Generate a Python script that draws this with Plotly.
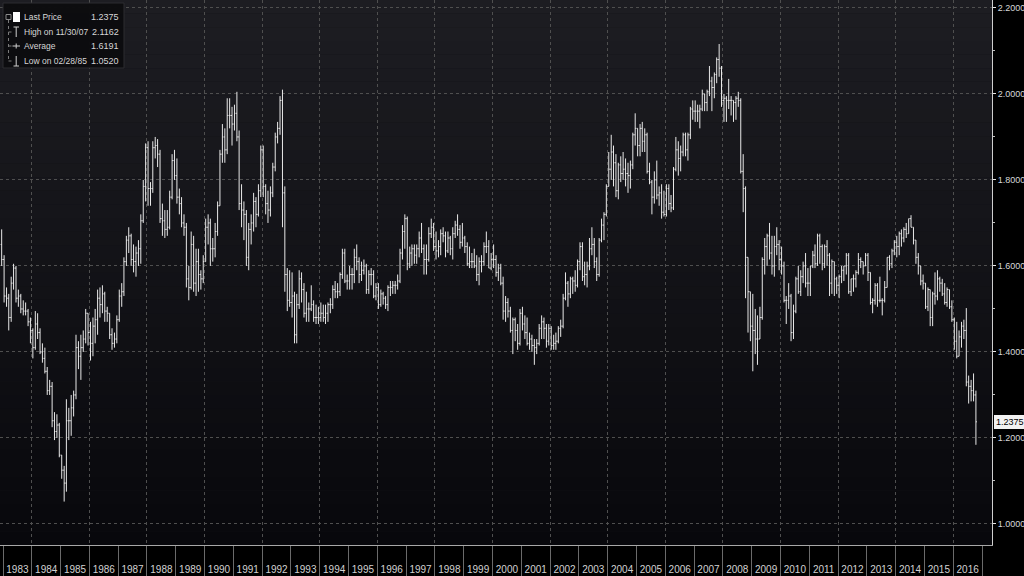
import plotly.graph_objects as go
import pandas as pd

# ---------------- DATA (monthly GBP/USD bars, Dec 1982 .. Oct 2016) ----------------
first_month = "1982-12"
first_open = 1.650

high = [
    1.685,
    1.625,1.550,1.535,1.575,1.605,1.600,1.545,1.535,1.520,1.515,1.500,1.480,  # 1983
    1.455,1.495,1.490,1.455,1.420,1.410,1.365,1.335,1.330,1.260,1.255,1.235,  # 1984
    1.160,1.135,1.290,1.270,1.300,1.310,1.440,1.425,1.440,1.450,1.500,1.490,  # 1985
    1.470,1.480,1.500,1.545,1.550,1.555,1.540,1.505,1.490,1.455,1.445,1.485,  # 1986
    1.545,1.560,1.620,1.670,1.690,1.675,1.650,1.645,1.660,1.720,1.800,1.885,  # 1987
    1.890,1.795,1.890,1.900,1.895,1.870,1.745,1.730,1.730,1.775,1.860,1.870,  # 1988
    1.850,1.780,1.760,1.720,1.700,1.600,1.680,1.670,1.640,1.640,1.590,1.625,  # 1989
    1.710,1.720,1.710,1.665,1.700,1.750,1.870,1.930,1.920,1.990,1.990,1.970,  # 1990
    1.975,2.005,1.915,1.790,1.750,1.730,1.700,1.720,1.770,1.760,1.790,1.880,  # 1991
    1.880,1.790,1.775,1.785,1.840,1.910,1.935,1.995,2.010,1.785,1.595,1.590,  # 1992
    1.585,1.540,1.535,1.590,1.585,1.560,1.540,1.515,1.555,1.520,1.510,1.505,  # 1993
    1.515,1.510,1.510,1.515,1.525,1.555,1.565,1.560,1.585,1.640,1.640,1.580,  # 1994
    1.600,1.595,1.640,1.650,1.620,1.610,1.615,1.605,1.590,1.595,1.590,1.560,  # 1995
    1.560,1.545,1.540,1.530,1.555,1.565,1.565,1.565,1.580,1.640,1.695,1.720,  # 1996
    1.715,1.645,1.650,1.650,1.650,1.680,1.700,1.650,1.650,1.690,1.710,1.700,  # 1997
    1.680,1.660,1.685,1.690,1.680,1.680,1.670,1.690,1.705,1.720,1.695,1.700,  # 1998
    1.670,1.655,1.645,1.630,1.640,1.625,1.620,1.625,1.655,1.680,1.660,1.630,  # 1999
    1.650,1.625,1.605,1.605,1.575,1.530,1.525,1.505,1.480,1.480,1.465,1.500,  # 2000
    1.505,1.485,1.480,1.445,1.440,1.430,1.430,1.465,1.485,1.480,1.465,1.465,  # 2001
    1.460,1.440,1.445,1.460,1.475,1.535,1.585,1.565,1.575,1.575,1.590,1.615,  # 2002
    1.655,1.655,1.610,1.610,1.665,1.690,1.665,1.620,1.665,1.710,1.725,1.790,  # 2003
    1.865,1.905,1.880,1.860,1.840,1.855,1.865,1.850,1.840,1.845,1.910,1.955,  # 2004
    1.910,1.930,1.935,1.920,1.910,1.840,1.800,1.820,1.845,1.785,1.790,1.775,  # 2005
    1.790,1.790,1.765,1.830,1.900,1.890,1.880,1.910,1.910,1.910,1.970,1.985,  # 2006
    1.985,1.975,1.975,2.010,2.000,2.010,2.065,2.040,2.050,2.085,2.1162,2.065, # 2007
    2.000,1.995,2.035,1.995,1.985,1.995,2.005,1.990,1.860,1.785,1.620,1.540,  # 2008
    1.535,1.500,1.485,1.505,1.620,1.665,1.675,1.700,1.670,1.670,1.690,1.660,  # 2009
    1.645,1.610,1.530,1.560,1.535,1.510,1.575,1.600,1.590,1.610,1.630,1.595,  # 2010
    1.600,1.635,1.650,1.675,1.675,1.650,1.650,1.660,1.630,1.615,1.610,1.575,  # 2011
    1.580,1.600,1.600,1.630,1.630,1.570,1.580,1.590,1.630,1.620,1.610,1.630,  # 2012
    1.630,1.585,1.525,1.560,1.560,1.575,1.525,1.565,1.620,1.625,1.640,1.660,  # 2013
    1.670,1.680,1.685,1.690,1.700,1.710,1.718,1.690,1.660,1.630,1.600,1.580,  # 2014
    1.560,1.550,1.545,1.540,1.585,1.590,1.575,1.570,1.560,1.550,1.540,1.520,  # 2015
    1.480,1.470,1.450,1.470,1.475,1.502,1.345,1.335,1.350,1.310,              # 2016
]

low = [
    1.600,
    1.515,1.505,1.450,1.470,1.545,1.515,1.505,1.490,1.485,1.485,1.460,1.420,  # 1983
    1.385,1.405,1.430,1.395,1.375,1.350,1.300,1.300,1.225,1.195,1.200,1.155,  # 1984
    1.105,1.052,1.075,1.195,1.205,1.250,1.290,1.360,1.335,1.400,1.420,1.415,  # 1985
    1.380,1.390,1.420,1.440,1.480,1.490,1.470,1.470,1.430,1.405,1.410,1.420,  # 1986
    1.470,1.505,1.530,1.600,1.630,1.600,1.585,1.575,1.600,1.605,1.700,1.750,  # 1987
    1.740,1.740,1.770,1.850,1.830,1.700,1.670,1.665,1.670,1.685,1.755,1.800,  # 1988
    1.745,1.720,1.690,1.670,1.550,1.520,1.545,1.540,1.530,1.540,1.545,1.560,  # 1989
    1.610,1.650,1.600,1.610,1.620,1.670,1.740,1.840,1.840,1.860,1.920,1.880,  # 1990
    1.915,1.890,1.730,1.690,1.660,1.600,1.590,1.650,1.680,1.690,1.715,1.760,  # 1991
    1.760,1.720,1.700,1.715,1.760,1.820,1.885,1.905,1.690,1.540,1.495,1.505,  # 1992
    1.480,1.420,1.420,1.500,1.515,1.480,1.470,1.470,1.495,1.470,1.465,1.465,  # 1993
    1.470,1.470,1.465,1.470,1.490,1.500,1.525,1.525,1.530,1.570,1.560,1.545,  # 1994
    1.545,1.545,1.560,1.590,1.560,1.565,1.580,1.535,1.535,1.555,1.525,1.520,  # 1995
    1.500,1.505,1.510,1.500,1.495,1.530,1.535,1.535,1.545,1.560,1.615,1.640,  # 1996
    1.590,1.595,1.600,1.605,1.605,1.620,1.630,1.580,1.580,1.610,1.665,1.635,  # 1997
    1.615,1.620,1.625,1.655,1.620,1.630,1.625,1.615,1.665,1.670,1.640,1.645,  # 1998
    1.630,1.600,1.595,1.595,1.595,1.565,1.555,1.585,1.600,1.630,1.595,1.590,  # 1999
    1.595,1.575,1.565,1.555,1.475,1.470,1.480,1.445,1.395,1.425,1.405,1.415,  # 2000
    1.450,1.430,1.415,1.405,1.400,1.370,1.395,1.415,1.430,1.430,1.410,1.415,  # 2001
    1.405,1.405,1.405,1.420,1.435,1.455,1.520,1.505,1.525,1.535,1.540,1.550,  # 2002
    1.590,1.565,1.555,1.550,1.590,1.625,1.595,1.565,1.575,1.655,1.660,1.715,  # 2003
    1.785,1.800,1.785,1.760,1.755,1.795,1.800,1.785,1.770,1.780,1.825,1.880,  # 2004
    1.855,1.855,1.865,1.865,1.815,1.790,1.720,1.745,1.755,1.740,1.710,1.715,  # 2005
    1.715,1.730,1.725,1.730,1.820,1.810,1.820,1.855,1.855,1.845,1.895,1.940,  # 2006
    1.935,1.935,1.920,1.960,1.960,1.960,1.995,1.960,1.990,2.025,2.040,1.970,  # 2007
    1.935,1.935,1.965,1.950,1.935,1.940,1.970,1.815,1.725,1.525,1.445,1.425,  # 2008
    1.355,1.395,1.370,1.435,1.475,1.580,1.600,1.615,1.580,1.575,1.625,1.590,  # 2009
    1.580,1.515,1.465,1.500,1.425,1.430,1.490,1.535,1.530,1.560,1.550,1.530,  # 2010
    1.530,1.595,1.595,1.600,1.605,1.590,1.595,1.600,1.530,1.535,1.530,1.535,  # 2011
    1.525,1.560,1.565,1.580,1.535,1.530,1.540,1.550,1.580,1.595,1.580,1.600,  # 2012
    1.565,1.510,1.490,1.510,1.505,1.515,1.485,1.515,1.550,1.590,1.595,1.625,  # 2013
    1.620,1.625,1.645,1.655,1.665,1.675,1.690,1.650,1.605,1.580,1.555,1.545,  # 2014
    1.500,1.495,1.460,1.460,1.510,1.520,1.540,1.530,1.510,1.505,1.500,1.470,  # 2015
    1.405,1.385,1.390,1.410,1.430,1.320,1.280,1.285,1.285,1.184,              # 2016
]

close = [
    1.615,
    1.530,1.525,1.480,1.560,1.595,1.525,1.530,1.500,1.495,1.495,1.470,1.450,  # 1983
    1.410,1.465,1.445,1.400,1.385,1.355,1.310,1.320,1.240,1.215,1.230,1.160,  # 1984
    1.125,1.095,1.240,1.240,1.270,1.300,1.410,1.390,1.410,1.430,1.490,1.445,  # 1985
    1.420,1.460,1.475,1.525,1.510,1.535,1.495,1.490,1.440,1.420,1.430,1.475,  # 1986
    1.530,1.540,1.610,1.660,1.670,1.615,1.610,1.630,1.640,1.705,1.785,1.875,  # 1987
    1.780,1.780,1.875,1.880,1.860,1.710,1.705,1.685,1.690,1.760,1.845,1.810,  # 1988
    1.760,1.745,1.700,1.690,1.570,1.550,1.650,1.560,1.610,1.580,1.570,1.610,  # 1989
    1.690,1.700,1.640,1.640,1.680,1.740,1.860,1.900,1.870,1.950,1.950,1.930,  # 1990
    1.955,1.900,1.745,1.730,1.720,1.620,1.685,1.700,1.750,1.720,1.775,1.870,  # 1991
    1.785,1.745,1.730,1.770,1.830,1.900,1.920,1.985,1.770,1.580,1.520,1.515,  # 1992
    1.530,1.440,1.510,1.570,1.545,1.490,1.500,1.500,1.510,1.480,1.480,1.480,  # 1993
    1.490,1.480,1.490,1.510,1.510,1.545,1.540,1.540,1.580,1.630,1.565,1.565,  # 1994
    1.580,1.580,1.620,1.610,1.580,1.590,1.600,1.545,1.580,1.580,1.530,1.550,  # 1995
    1.510,1.535,1.525,1.510,1.550,1.550,1.555,1.555,1.565,1.630,1.680,1.710,  # 1996
    1.605,1.630,1.640,1.625,1.640,1.665,1.640,1.615,1.615,1.675,1.690,1.645,  # 1997
    1.635,1.645,1.675,1.670,1.635,1.665,1.640,1.675,1.695,1.685,1.655,1.665,  # 1998
    1.645,1.605,1.610,1.610,1.600,1.580,1.610,1.610,1.645,1.645,1.595,1.615,  # 1999
    1.615,1.585,1.595,1.560,1.495,1.515,1.495,1.450,1.475,1.450,1.420,1.490,  # 2000
    1.465,1.445,1.420,1.430,1.415,1.410,1.420,1.455,1.470,1.455,1.425,1.455,  # 2001
    1.415,1.420,1.425,1.455,1.460,1.525,1.560,1.535,1.570,1.565,1.555,1.610,  # 2002
    1.645,1.575,1.580,1.600,1.640,1.650,1.610,1.580,1.660,1.695,1.720,1.785,  # 2003
    1.825,1.865,1.840,1.775,1.835,1.815,1.825,1.815,1.810,1.835,1.905,1.920,  # 2004
    1.880,1.920,1.890,1.905,1.820,1.795,1.760,1.800,1.765,1.770,1.725,1.720,  # 2005
    1.780,1.745,1.735,1.825,1.870,1.850,1.865,1.905,1.870,1.905,1.965,1.960,  # 2006
    1.960,1.960,1.965,2.000,1.980,2.005,2.030,2.015,2.045,2.080,2.060,1.985,  # 2007
    1.990,1.985,1.985,1.985,1.980,1.990,1.985,1.820,1.780,1.620,1.540,1.460,  # 2008
    1.450,1.430,1.430,1.480,1.615,1.645,1.670,1.630,1.600,1.645,1.650,1.615,  # 2009
    1.600,1.520,1.520,1.530,1.445,1.495,1.570,1.540,1.575,1.600,1.560,1.560,  # 2010
    1.600,1.625,1.605,1.670,1.645,1.605,1.645,1.625,1.560,1.610,1.570,1.555,  # 2011
    1.575,1.590,1.600,1.625,1.540,1.570,1.570,1.585,1.615,1.610,1.600,1.625,  # 2012
    1.585,1.515,1.520,1.555,1.520,1.520,1.520,1.550,1.620,1.605,1.635,1.655,  # 2013
    1.645,1.675,1.665,1.685,1.675,1.710,1.690,1.660,1.620,1.600,1.565,1.560,  # 2014
    1.505,1.545,1.480,1.535,1.530,1.570,1.560,1.535,1.515,1.545,1.505,1.475,  # 2015
    1.425,1.390,1.435,1.460,1.450,1.330,1.320,1.310,1.300,1.2375,             # 2016
]

legend_labels = ["Last Price", "High on 11/30/07", "Average", "Low on 02/28/85"]
legend_values = ["1.2375", "2.1162", "1.6191", "1.0520"]
last_price = 1.2375

x_range = ["1982-11-24", "2017-05-07"]
y_range = [0.951, 2.2185]

# ---------------- BUILD ----------------
n = len(close)
dates = pd.date_range(first_month + "-01", periods=n, freq="MS") + pd.Timedelta(days=14)
opens = [first_open] + close[:-1]
hi = [max(h, o, c) for h, o, c in zip(high, opens, close)]
lo = [min(l, o, c) for l, o, c in zip(low, opens, close)]

FONT = "Liberation Sans Narrow, Arial Narrow, Liberation Sans, Arial, sans-serif"
BAR = "#e8e8e8"

fig = go.Figure()
fig.add_trace(go.Ohlc(
    x=dates, open=opens, high=hi, low=lo, close=close,
    increasing=dict(line=dict(color=BAR, width=1)),
    decreasing=dict(line=dict(color=BAR, width=1)),
    tickwidth=0.45, hoverinfo="skip", showlegend=False,
))
# helper traces so overlay axes render
fig.add_trace(go.Scatter(x=[], y=[], xaxis="x2", showlegend=False, hoverinfo="skip"))
fig.add_trace(go.Scatter(x=[], y=[], xaxis="x3", showlegend=False, hoverinfo="skip"))

PW, PH = 992, 545
def X(px):
    return px / PW
def Y(py):
    return 1 - py / PH

shapes = []
# background gradient bands
nb = 40
top = (29, 29, 34)
bot = (8, 8, 12)
for i in range(nb):
    t = i / (nb - 1)
    col = tuple(int(round(top[k] + (bot[k] - top[k]) * t)) for k in range(3))
    shapes.append(dict(type="rect", xref="paper", yref="paper",
                       x0=0, x1=1, y0=1 - (i + 1) / nb, y1=1 - i / nb,
                       fillcolor="rgb(%d,%d,%d)" % col, line=dict(width=0), layer="below"))

# legend box
shapes.append(dict(type="rect", xref="paper", yref="paper",
                   x0=X(3), x1=X(124), y0=Y(68), y1=Y(3),
                   fillcolor="rgba(12,12,14,0.97)", line=dict(color="#2c2c30", width=1), layer="above"))
rows = [17, 32, 46, 61]
LC = "#cfcfcf"
# tree
shapes.append(dict(type="rect", xref="paper", yref="paper", x0=X(6), x1=X(11), y0=Y(19.5), y1=Y(14.5),
                   line=dict(color="#8a8a8a", width=1), fillcolor="rgba(0,0,0,0)", layer="above"))
shapes.append(dict(type="line", xref="paper", yref="paper", x0=X(8.5), x1=X(8.5), y0=Y(20), y1=Y(61),
                   line=dict(color="#7a7a7a", width=1, dash="dot"), layer="above"))
for r in rows[1:]:
    shapes.append(dict(type="line", xref="paper", yref="paper", x0=X(8.5), x1=X(12), y0=Y(r), y1=Y(r),
                       line=dict(color="#7a7a7a", width=1, dash="dot"), layer="above"))
# icons
shapes.append(dict(type="rect", xref="paper", yref="paper", x0=X(13), x1=X(20), y0=Y(22), y1=Y(12),
                   fillcolor="#ffffff", line=dict(width=0), layer="above"))
shapes.append(dict(type="line", xref="paper", yref="paper", x0=X(13.5), x1=X(19), y0=Y(27), y1=Y(27),
                   line=dict(color=LC, width=1), layer="above"))
shapes.append(dict(type="line", xref="paper", yref="paper", x0=X(16.2), x1=X(16.2), y0=Y(27), y1=Y(37),
                   line=dict(color=LC, width=1), layer="above"))
shapes.append(dict(type="line", xref="paper", yref="paper", x0=X(12.5), x1=X(20), y0=Y(46), y1=Y(46),
                   line=dict(color=LC, width=1), layer="above"))
shapes.append(dict(type="line", xref="paper", yref="paper", x0=X(16.2), x1=X(16.2), y0=Y(43.5), y1=Y(48.5),
                   line=dict(color=LC, width=1), layer="above"))
shapes.append(dict(type="line", xref="paper", yref="paper", x0=X(16.2), x1=X(16.2), y0=Y(56), y1=Y(66),
                   line=dict(color=LC, width=1), layer="above"))
shapes.append(dict(type="line", xref="paper", yref="paper", x0=X(13.5), x1=X(19), y0=Y(66), y1=Y(66),
                   line=dict(color=LC, width=1), layer="above"))

annotations = []
for r, lab, val in zip(rows, legend_labels, legend_values):
    annotations.append(dict(xref="paper", yref="paper", x=X(21.5), y=Y(r), xanchor="left", yanchor="middle",
                            text=lab, showarrow=False, font=dict(family=FONT, size=8.5, color="#d6d6d6")))
    annotations.append(dict(xref="paper", yref="paper", x=X(121), y=Y(r), xanchor="right", yanchor="middle",
                            text=val, showarrow=False, font=dict(family=FONT, size=9, color="#d6d6d6")))
# last price tag
annotations.append(dict(xref="paper", yref="y", x=1, y=last_price, xanchor="left", yanchor="middle",
                        xshift=2, text="%.4f" % last_price, showarrow=False, bgcolor="#f2f2f2",
                        bordercolor="#f2f2f2", borderpad=1,
                        font=dict(family=FONT, size=9, color="#000000")))

GRID = "#4f4f4f"
fig.update_layout(
    width=1024, height=576,
    margin=dict(l=0, r=32, t=0, b=31, pad=0, autoexpand=False),
    paper_bgcolor="#000000", plot_bgcolor="#121216",
    shapes=shapes, annotations=annotations,
    showlegend=False,
    xaxis=dict(type="date", range=x_range, dtick="M12", tick0="1983-01-01", ticklabelmode="period",
               tickformat="%Y", ticks="outside", ticklen=15, tickcolor="rgba(0,0,0,0)",
               showgrid=False, zeroline=False, showline=True, linecolor="#a8a8a8", linewidth=1,
               rangeslider=dict(visible=False), automargin=False,
               tickfont=dict(family=FONT, size=10, color="#d2d2d2")),
    xaxis2=dict(type="date", range=x_range, overlaying="x", side="bottom", anchor="y",
                dtick="M12", tick0="1983-01-01", ticks="outside", ticklen=31, tickcolor="#6a6a6a",
                tickwidth=1, showticklabels=False, showgrid=False, zeroline=False, showline=False),
    xaxis3=dict(type="date", range=x_range, overlaying="x", side="bottom", anchor="y",
                dtick="M24", tick0="1984-01-01", ticks="", showticklabels=False,
                showgrid=True, gridcolor=GRID, griddash="dot", gridwidth=1,
                zeroline=False, showline=False),
    yaxis=dict(side="right", range=y_range, dtick=0.2, tick0=1.0, tickformat=".4f",
               showgrid=True, gridcolor=GRID, griddash="dot", gridwidth=1,
               ticks="outside", ticklen=3, tickcolor="#e6e6e6", tickwidth=1,
               minor=dict(dtick=0.1, ticks="outside", ticklen=2, tickcolor="#bdbdbd", showgrid=False),
               showline=True, linecolor="#cfcfcf", linewidth=1, zeroline=False, automargin=False,
               tickfont=dict(family=FONT, size=9, color="#d8d8d8")),
)

fig.write_html("out.html", config={"displayModeBar": False},
               post_script="document.body.style.margin='0px';document.body.style.overflow='hidden';")
